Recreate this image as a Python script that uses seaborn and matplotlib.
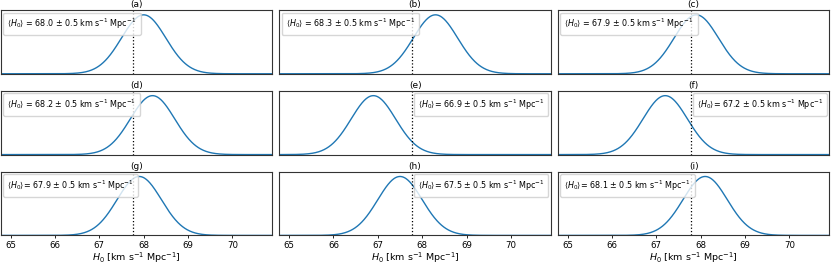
import numpy as np
import pandas as pd
import matplotlib
matplotlib.use("Agg")
import matplotlib.pyplot as plt
import seaborn as sns

# posterior summaries
panels = ["(a)", "(b)", "(c)", "(d)", "(e)", "(f)", "(g)", "(h)", "(i)"]
h0_mean = [68.0, 68.3, 67.9, 68.2, 66.9, 67.2, 67.9, 67.5, 68.1]
h0_sigma = [0.5, 0.5, 0.5, 0.5, 0.5, 0.5, 0.5, 0.5, 0.5]
label_sep = [" = ", " = ", " = ", " = ", "= ", "= ", "= ", "= ", "= "]
legend_loc = ["upper left", "upper left", "upper left", "upper left",
              "upper right", "upper right", "upper left", "upper right", "upper left"]
h0_ref = 67.77
x_ticks = [65, 66, 67, 68, 69, 70]
x_range = (64.78, 70.9)

plt.rcParams["font.family"] = ["DejaVu Sans"]
plt.rcParams["mathtext.fontset"] = "dejavusans"

fs = 5.8

fig, axes = plt.subplots(3, 3, figsize=(8.31, 2.66), dpi=100, sharex=True)
fig.subplots_adjust(left=0.001, right=0.998, top=0.962, bottom=0.115,
                    wspace=0.026, hspace=0.27)

grid = np.linspace(x_range[0], x_range[1], 600)

for i, ax in enumerate(axes.flat):
    mu, sd = h0_mean[i], h0_sigma[i]
    df = pd.DataFrame({
        "H0": grid,
        "post": np.exp(-0.5 * ((grid - mu) / sd) ** 2),
    })
    label = (r"$\langle H_0\rangle$" + label_sep[i]
             + f"{mu:.1f} $\\pm$ {sd:.1f} km s$^{{-1}}$ Mpc$^{{-1}}$")
    sns.lineplot(data=df, x="H0", y="post", ax=ax, color="#1f77b4",
                 linewidth=1.0, label=label)
    ax.axvline(h0_ref, color="black", linestyle=":", linewidth=0.9)
    leg = ax.legend(loc=legend_loc[i], handlelength=0, handletextpad=0,
                    fontsize=fs, borderpad=0.5, borderaxespad=0.3,
                    framealpha=0.8)
    for h in leg.legend_handles:
        h.set_visible(False)
    ax.set_title(panels[i], fontsize=6.5, pad=2)
    ax.set_xlim(*x_range)
    ax.set_ylim(0, 1.08)
    ax.set_yticks([])
    ax.set_ylabel("")
    ax.set_xlabel("")
    for s in ax.spines.values():
        s.set_linewidth(0.8)
        s.set_edgecolor("#333333")
    if i < 6:
        ax.tick_params(axis="x", length=0)
    else:
        ax.set_xticks(x_ticks)
        ax.tick_params(axis="x", labelsize=6.2, length=2.5, width=0.6, pad=1.5)
        ax.set_xlabel(r"$H_0$ [km s$^{-1}$ Mpc$^{-1}$]", fontsize=6.8,
                      labelpad=0)

fig.savefig("out.png", dpi=100)
